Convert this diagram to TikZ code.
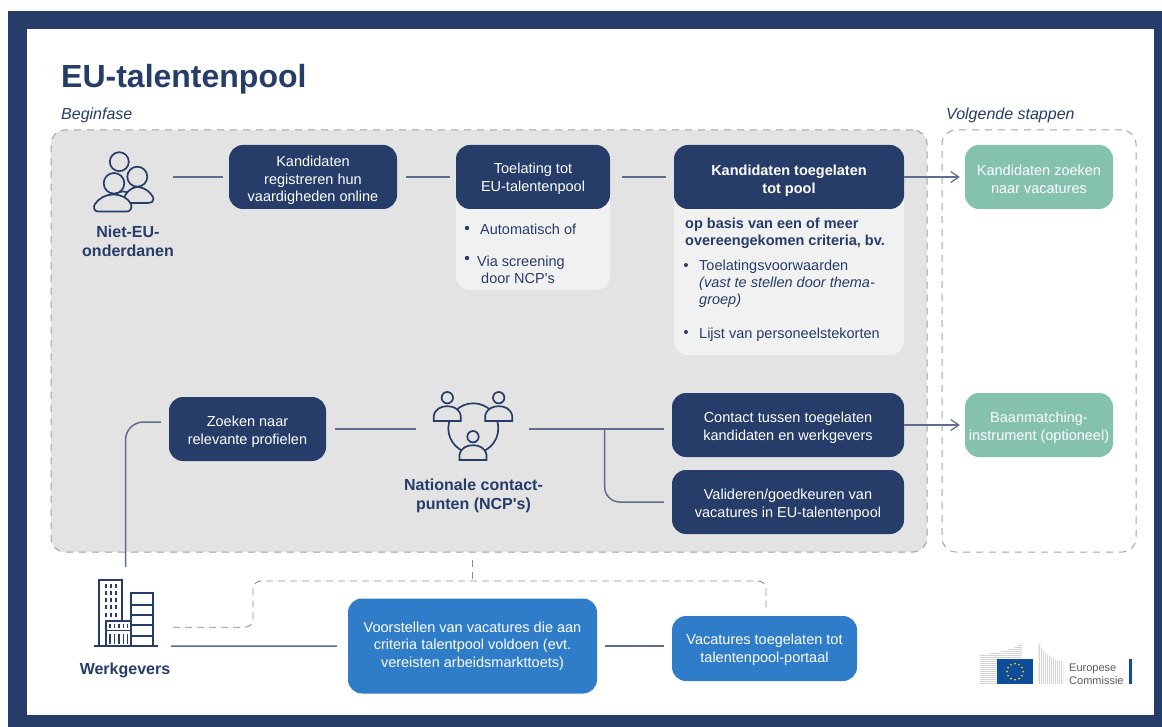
\documentclass[tikz,border=0pt]{standalone}
\usepackage{fontspec}
\setmainfont{Liberation Sans}
\newfontfamily\plainf{Liberation Sans}
\usetikzlibrary{calc,arrows.meta}
\definecolor{navy}{HTML}{253D68}
\definecolor{conn}{HTML}{5F6E8D}
\definecolor{midblue}{HTML}{2F7DC9}
\definecolor{teal}{HTML}{85C2AE}
\definecolor{panelgrey}{HTML}{E3E3E3}
\definecolor{lightgrey}{HTML}{F1F1F1}
\definecolor{dashgrey}{HTML}{A3A3A3}
\definecolor{euflag}{HTML}{0F4C9A}
\newcommand{\fs}[1]{\fontsize{#1}{17.6}\selectfont}
\newcommand{\dn}[1]{\rule{0pt}{\dimexpr 10.5pt+#1pt\relax}}
\newcommand{\apos}{{\plainf'}}
\tikzset{
  x=1pt,y=-1pt,
  rbox/.style={rectangle,rounded corners=14,inner sep=0pt,align=center,text=white,font=\fs{14.5}},
  darkbox/.style={rbox,fill=navy},
  bluebox/.style={rbox,fill=midblue},
  tealbox/.style={rbox,fill=teal},
  lightbox/.style={rectangle,rounded corners=14,inner sep=0pt,fill=lightgrey},
  dashbox/.style={rectangle,rounded corners=14,inner sep=0pt,draw=dashgrey,line width=1pt,dash pattern=on 7pt off 6pt},
  iconbox/.style={rectangle,inner sep=0pt},
  conline/.style={draw=conn,line width=1.5pt},
  arrowline/.style={draw=conn,line width=1.2pt,-{Straight Barb[length=8pt,width=11pt,line width=1.2pt]}},
  dashline/.style={draw=dashgrey!85!black,line width=0.85pt,dash pattern=on 7pt off 5pt},
  ltxt/.style={inner sep=0pt,anchor=base west,text=navy,font=\fs{14.5}},
  btxt/.style={inner sep=0pt,align=center,text=navy,font=\fontsize{16}{19}\selectfont\bfseries},
  icon/.style={draw=navy,line width=1.7pt},
  iconfill/.style={draw=navy,line width=1.7pt,fill=panelgrey},
  bullet/.style={fill=navy},
}
\begin{document}
\begin{tikzpicture}
\useasboundingbox (0,0) rectangle (1162,727);
% frame
\fill[navy] (8,11) rectangle (1162,727);
\fill[white] (27,29) rectangle (1153.5,715);
% titles
\node[inner sep=0pt,anchor=base west,text=navy,font=\fontsize{32}{36}\selectfont\bfseries] (title) at (61,88) {EU-talentenpool};
\node[inner sep=0pt,anchor=base west,text=navy,font=\fs{16}\itshape] (begin) at (61,119.5) {Beginfase};
\node[inner sep=0pt,anchor=base west,text=navy,font=\fs{16}\itshape] (next) at (946,119.5) {Volgende stappen};
% panels
\node[dashbox,fill=panelgrey,minimum width=876,minimum height=422] (panel) at (489,341) {};
\node[dashbox,minimum width=194,minimum height=422] (panelr) at (1039,341) {};
% light boxes
\node[lightbox,minimum width=154,minimum height=120] (toelbg) at (533,230) {};
\node[lightbox,minimum width=230,minimum height=185] (kandbg) at (789,262.5) {};
% boxes
\node[darkbox,minimum width=168,minimum height=64] (reg) at (313,177) {\dn{7}Kandidaten\\registreren hun\\vaardigheden online};
\node[darkbox,minimum width=154,minimum height=64] (toel) at (533,177) {\dn{3}Toelating tot\\EU-talentenpool};
\node[darkbox,minimum width=230,minimum height=64,font=\fs{14.5}\bfseries] (kand) at (789,177) {\dn{8}Kandidaten toegelaten\\tot pool};
\node[tealbox,minimum width=148,minimum height=64] (zoekvac) at (1039,177) {\dn{5}Kandidaten zoeken\\naar vacatures};
\node[darkbox,minimum width=157,minimum height=64] (zoek) at (247.5,429) {\dn{6}Zoeken naar\\relevante profielen};
\node[darkbox,minimum width=232,minimum height=64] (contact) at (788,425) {\dn{6}Contact tussen toegelaten\\kandidaten en werkgevers};
\node[darkbox,minimum width=232,minimum height=64] (valid) at (788,502) {\dn{5}Valideren/goedkeuren van\\vacatures in EU-talentenpool};
\node[tealbox,minimum width=148,minimum height=64] (match) at (1039,425) {\dn{6}Baanmatching-\\instrument (optioneel)};
\node[bluebox,minimum width=249,minimum height=95] (voorst) at (472.5,646) {Voorstellen van vacatures die aan\\criteria talentpool voldoen (evt.\\vereisten arbeidsmarkttoets)};
\node[bluebox,minimum width=185,minimum height=65] (vac) at (764.5,648.5) {\dn{3}Vacatures toegelaten tot\\talentenpool-portaal};
% icon holders
\node[iconbox,minimum width=98,minimum height=60] (people) at (124,177) {};
\node[iconbox,minimum width=113,minimum height=70] (ncp) at (472.5,429) {};
\node[iconbox,minimum width=91,minimum height=79] (bld) at (125.5,606.5) {};
% light box text
\fill[bullet] (467,228) circle (2.2);
\node[ltxt] (t1) at (480,235) {Automatisch of};
\fill[bullet] (467,258) circle (2.2);
\node[ltxt] (t2) at (477,267) {Via screening};
\node[ltxt] (t3) at (481,284) {door NCP\apos s};
\node[ltxt,font=\fs{14.5}\bfseries] (t4) at (685,229) {op basis van een of meer};
\node[ltxt,font=\fs{14.5}\bfseries] (t5) at (685,246) {overeengekomen criteria, bv.};
\fill[bullet] (686,265) circle (2);
\node[ltxt] (t6) at (699,271) {Toelatingsvoorwaarden};
\node[ltxt,font=\fs{14.5}\itshape] (t7) at (699,288) {(vast te stellen door thema-};
\node[ltxt,font=\fs{14.5}\itshape] (t8) at (699,305) {groep)};
\fill[bullet] (686,332) circle (2);
\node[ltxt] (t9) at (699,338.5) {Lijst van personeelstekorten};
% actor labels
\node[btxt] (lab1) at (128,241.5) {Niet-EU-\\onderdanen};
\node[btxt] (lab2) at (473.5,495.5) {Nationale contact-\\punten (NCP\apos s)};
\node[btxt] (lab3) at (125,670) {Werkgevers};
% connectors
\draw[conline] (people.east) -- ([xshift=-6]reg.west);
\draw[conline,shorten <=9pt,shorten >=6pt] (reg.east) -- (toel.west);
\draw[conline,shorten <=12pt,shorten >=8pt] (toel.east) -- (kand.west);
\draw[arrowline,shorten >=5pt] (kand.east) -- (zoekvac.west);
\draw[conline,rounded corners=18] (bld.north) |- ($(zoek.west)+(-8,-7)$);
\draw[conline,shorten <=9pt] (zoek.east) -- (ncp.west);
\draw[conline] (ncp.east) -- ($(contact.west)+(-8,4)$);
\draw[conline,rounded corners=15] ($(ncp.east)+(75.5,0)$) |- ($(valid.west)+(-8,0)$);
\draw[arrowline,shorten >=5pt] (contact.east) -- (match.west);
\draw[conline] (bld.south east) -- ($(voorst.west)+(-11,0)$);
\draw[conline] ($(voorst.east)+(8,0)$) -- ($(vac.west)+(-8,-2.5)$);
\draw[dashline,rounded corners=8] ($(bld.south east)+(2,-19)$) -| (253,581) -- (766,581) -- ($(vac.north)+(1.5,-6)$);
\draw[dashline] ($(panel.south)+(-17,7)$) -- (472,581);
% people icon
\begin{scope}[icon]
\draw (119.3,161.7) circle (9.5);
\draw (112,196) .. controls (120,190) and (128,190) .. (133,196);
\draw[fill=panelgrey] (123,202) .. controls (124,193) and (132,187) .. (137,187) .. controls (146,187) and (153,195) .. (153.5,199) .. controls (153.5,202) and (151,203) .. (148,203) -- (123,203) -- cycle;
\draw[fill=panelgrey] (137.3,176.7) circle (10);
\draw[fill=panelgrey] (98,211.5) .. controls (94,211.5) and (93,207) .. (95,204) .. controls (99,198) and (106,194.5) .. (113,194.5) .. controls (121,194.5) and (128,198) .. (131,204) .. controls (132.5,208) and (130,211.5) .. (127,211.5) -- cycle;
\draw[fill=panelgrey] (114,183.3) circle (10.3);
\end{scope}
% ncp icon
\draw[icon] (473.3,428.3) circle (25);
\foreach \cx/\cy in {447.3/397.7,498.7/397.7,473/436.7}{
  \draw[iconfill] (\cx,\cy) circle (5.7);
  \draw[iconfill] (\cx-13.5,\cy+23.3) -- (\cx-13.5,\cy+18) .. controls (\cx-12,\cy+11) and (\cx-6,\cy+8.5) .. (\cx,\cy+8.5) .. controls (\cx+6,\cy+8.5) and (\cx+12,\cy+11) .. (\cx+13.5,\cy+18) -- (\cx+13.5,\cy+23.3) -- cycle;
}
% building icon
\begin{scope}[icon]
\draw (99,645.7) -- (99,580) -- (122.3,580) -- (122.3,620.7);
\draw (131,645.7) -- (131,593.3) -- (153.3,593.3) -- (153.3,645.7);
\foreach \yy in {605,615,625,636} \draw (131,\yy) -- (153.3,\yy);
\draw (105.7,645.7) -- (105.7,620.7) -- (131,620.7);
\draw (105.7,630.5) -- (131,630.5);
\draw[line width=1.9pt] (94,645.7) -- (157.7,645.7);
\foreach \xx in {110,114.5,119,123.5,127.5} \draw[line width=1.3pt] (\xx,634) -- (\xx,644);
\foreach \xx in {110,114.5,119,123.5,127.5} \draw[line width=1.3pt] (\xx,624) -- (\xx,628);
\end{scope}
\foreach \xx in {105.7,110.7,116}{\foreach \yy in {586,593,600,607,615}{\fill[navy] (\xx-1.1,\yy-1.6) rectangle (\xx+1.1,\yy+1.6);}}
% EC logo
\begin{scope}
\clip (980,684) -- (980,655) .. controls (1000,652) and (1014,650) .. (1021.7,642.7) -- (1021.7,684) -- cycle;
\fill[black!17] (980,640) rectangle (1022,684);
\foreach \yy in {642,644,...,684} \draw[white,line width=0.7pt] (980,\yy) -- (1022,\yy);
\end{scope}
\begin{scope}
\clip (1038.7,684) -- (1038.7,642.7) .. controls (1042,652) and (1052,660) .. (1063.3,661.7) -- (1063.3,684) -- cycle;
\fill[black!17] (1038,640) rectangle (1064,684);
\foreach \xx in {1040,1042,...,1064} \draw[white,line width=0.7pt] (\xx,640) -- (\xx,684);
\end{scope}
\fill[euflag] (997,659.3) rectangle (1033.3,684);
\foreach \aa in {0,30,...,330} \fill[yellow!85!orange] ($(1015,671.7)+(\aa:8)$) circle (0.95);
\fill[euflag] (1129,659.3) rectangle (1131.5,684);
\node[inner sep=0pt,anchor=base west,text=black!65,font=\fontsize{11}{12}\selectfont] (ec1) at (1069,671) {Europese};
\node[inner sep=0pt,anchor=base west,text=black!65,font=\fontsize{11}{12}\selectfont] (ec2) at (1069,684) {Commissie};
\end{tikzpicture}
\end{document}
